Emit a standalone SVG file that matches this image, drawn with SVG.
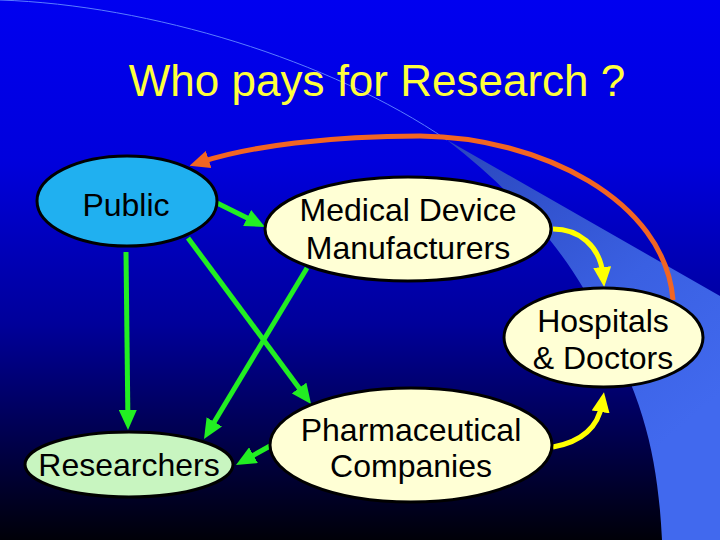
<svg xmlns="http://www.w3.org/2000/svg" width="720" height="540" viewBox="0 0 720 540">
<defs>
<linearGradient id="bg" x1="0" y1="0" x2="0" y2="1">
<stop offset="0" stop-color="#0000f0"/>
<stop offset="0.3" stop-color="#0000dc"/>
<stop offset="0.6" stop-color="#00009a"/>
<stop offset="1" stop-color="#000008"/>
</linearGradient>
<linearGradient id="band" gradientUnits="userSpaceOnUse" x1="450" y1="140" x2="690" y2="420">
<stop offset="0" stop-color="#2a46bc"/>
<stop offset="0.6" stop-color="#3a60e2"/>
<stop offset="1" stop-color="#4169ee"/>
</linearGradient>
<marker id="ag" viewBox="0 0 20 18" markerWidth="20" markerHeight="18" markerUnits="userSpaceOnUse" refX="8" refY="9" orient="auto"><path d="M0,0 L20,9 L0,18 z" fill="#22ee22"/></marker>
<marker id="ay" viewBox="0 0 20 18" markerWidth="20" markerHeight="18" markerUnits="userSpaceOnUse" refX="8" refY="9" orient="auto"><path d="M0,0 L20,9 L0,18 z" fill="#ffff00"/></marker>
<marker id="ao" viewBox="0 0 20 18" markerWidth="20" markerHeight="18" markerUnits="userSpaceOnUse" refX="8" refY="9" orient="auto"><path d="M0,0 L20,9 L0,18 z" fill="#f26522"/></marker>
</defs>
<style>
.node ellipse{stroke:#000;stroke-width:3}
.t{font-family:"Liberation Sans",Arial,sans-serif;font-size:32px;fill:#000;text-anchor:middle}
.g{stroke:#22ee22;stroke-width:5;fill:none;marker-end:url(#ag)}
.y{stroke:#ffff00;stroke-width:5;fill:none;marker-end:url(#ay)}
.o{stroke:#f26522;stroke-width:5;fill:none;marker-end:url(#ao)}
</style>
<rect width="720" height="540" fill="url(#bg)"/>
<path d="M447,140 L720,296 L720,540 L662,540 C658,460 645,400 600,320 C575,265 525,200 447,140 Z" fill="url(#band)"/>
<path d="M0,0 C150,5 330,60 447,140" fill="none" stroke="#5a7cff" stroke-width="1"/>
<text x="377" y="96" font-family="'Liberation Sans',Arial,sans-serif" font-size="44" fill="#ffff3c" text-anchor="middle">Who pays for Research ?</text>
<g id="connectors">
<path class="g" d="M217,203 L254.3,221.6"/>
<path class="g" d="M126,252 L127.9,418"/>
<path class="g" d="M188,238 L303.9,394.4"/>
<path class="g" d="M307,268 L210.2,428.7"/>
<path class="g" d="M270,446 L246.5,459.1"/>
<path class="y" d="M553,229 C578,229 600,245 603,275"/>
<path class="y" d="M553,447 C580,442 598,428 602,404"/>
<path class="o" d="M673,300 C665,200 540,137 420,136 C330,136 250,146 201,162"/>
</g>
<g id="public" class="node"><ellipse cx="127" cy="201" rx="90" ry="45" fill="#20b0f0"/><text class="t" x="126" y="216">Public</text></g>
<g id="medical" class="node"><ellipse cx="408" cy="229" rx="143" ry="52" fill="#ffffd5"/><text class="t" x="408" y="221">Medical Device</text><text class="t" x="408" y="259">Manufacturers</text></g>
<g id="hospitals" class="node"><ellipse cx="603.5" cy="337.5" rx="99.5" ry="49.5" fill="#ffffd5"/><text class="t" x="603" y="332">Hospitals</text><text class="t" x="603" y="369">&amp; Doctors</text></g>
<g id="researchers" class="node"><ellipse cx="129" cy="464.5" rx="104" ry="32.5" fill="#c8f5c0"/><text class="t" x="129" y="476">Researchers</text></g>
<g id="pharma" class="node"><ellipse cx="411" cy="445" rx="141" ry="57" fill="#ffffd5"/><text class="t" x="411" y="441">Pharmaceutical</text><text class="t" x="411" y="477">Companies</text></g>
</svg>
